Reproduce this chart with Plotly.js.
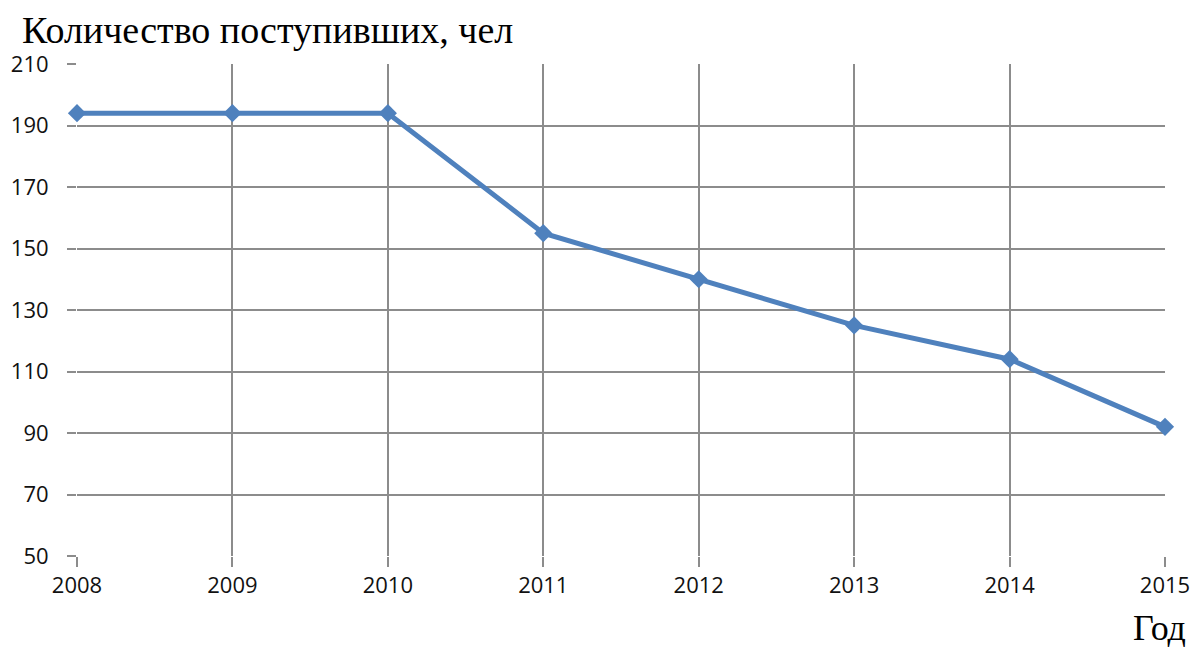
<!DOCTYPE html>
<html><head><meta charset="utf-8">
<script src="https://cdn.plot.ly/plotly-3.0.1.min.js"></script>
<style>html,body{margin:0;padding:0;background:#fff}#chart{width:1194px;height:650px}</style>
</head><body><div id="chart"></div>
<script>
const years = [2008, 2009, 2010, 2011, 2012, 2013, 2014, 2015];
const admitted = [194, 194, 194, 155, 140, 125, 114, 92];
const yTicks = [50, 70, 90, 110, 130, 150, 170, 190, 210];
const yTitle = 'Количество поступивших, чел';
const xTitle = 'Год';

const trace = {
  x: years, y: admitted, type: 'scatter', mode: 'lines+markers',
  line: {color: '#4f81bd', width: 5},
  marker: {symbol: 'diamond', size: 14, color: '#4f81bd'},
  cliponaxis: false,
  hoverinfo: 'x+y'
};
const tickFont = {family: '"Open Sans", Lato, sans-serif', size: 22, color: '#111'};
const layout = {
  width: 1194, height: 650,
  margin: {l: 77, r: 29, t: 64, b: 94},
  paper_bgcolor: '#fff', plot_bgcolor: '#fff',
  showlegend: false,
  xaxis: {
    range: [2008, 2015], tickmode: 'array', tickvals: years, ticktext: years.map(String),
    showgrid: true, gridcolor: '#8c8c8c', gridwidth: 2,
    showline: false, zeroline: false,
    ticks: 'outside', ticklen: 10, tickwidth: 2, tickcolor: '#8c8c8c',
    tickfont: tickFont
  },
  yaxis: {
    range: [50, 210], tickmode: 'array', tickvals: yTicks,
    showgrid: true, gridcolor: '#8c8c8c', gridwidth: 2,
    showline: false, zeroline: false,
    ticks: 'outside', ticklen: 9, tickwidth: 2, tickcolor: '#8c8c8c',
    ticklabelstandoff: 14,
    tickfont: tickFont
  },
  annotations: [
    {text: yTitle, xref: 'paper', yref: 'paper', x: -0.052, y: 1, xanchor: 'left', yanchor: 'bottom', yshift: 11, showarrow: false,
     font: {family: '"Liberation Serif", "DejaVu Serif", serif', size: 38, color: '#000'}},
    {text: xTitle, xref: 'paper', yref: 'paper', x: 1, y: 0, xanchor: 'left', yanchor: 'top', xshift: -34, yshift: -50, showarrow: false,
     font: {family: '"Liberation Serif", "DejaVu Serif", serif', size: 36, color: '#000'}}
  ]
};
Plotly.newPlot('chart', [trace], layout, {displayModeBar: false, staticPlot: true});
</script></body></html>
